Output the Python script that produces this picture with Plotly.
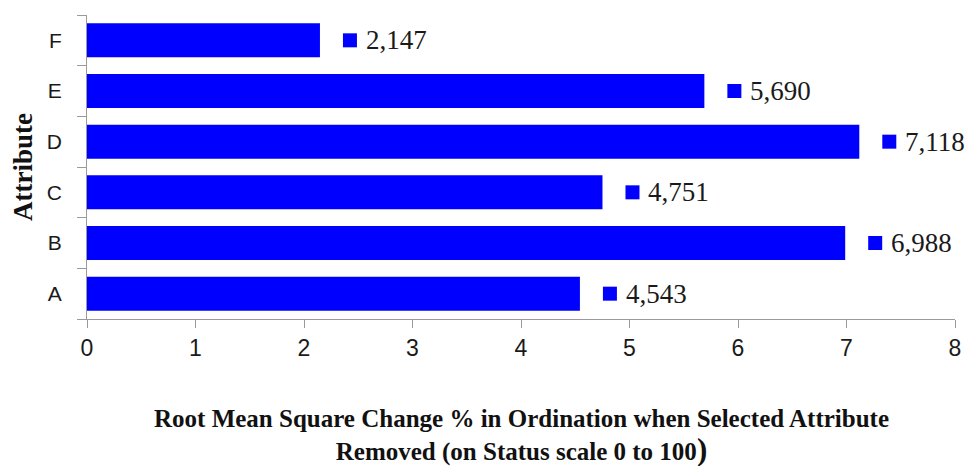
import plotly.graph_objects as go

categories = ["A", "B", "C", "D", "E", "F"]
values = [4.543, 6.988, 4.751, 7.118, 5.690, 2.147]
value_labels = ["4,543", "6,988", "4,751", "7,118", "5,690", "2,147"]
x_ticks = [0, 1, 2, 3, 4, 5, 6, 7, 8]

BLUE = "#0000FF"
AXIS = "#9A9A9A"

fig = go.Figure()
fig.add_trace(go.Bar(
    x=values, y=categories, orientation="h",
    marker=dict(color=BLUE, line=dict(width=0)),
    width=0.67, showlegend=False, hoverinfo="x+y",
))

shapes = []
annotations = []
for cat, v, lab in zip(categories, values, value_labels):
    shapes.append(dict(
        type="rect", xref="x", yref="y",
        xsizemode="pixel", xanchor=v, x0=23, x1=37,
        ysizemode="pixel", yanchor=cat, y0=-7, y1=7,
        fillcolor=BLUE, line=dict(width=0),
    ))
    annotations.append(dict(
        x=v, y=cat, xref="x", yref="y", text=lab, showarrow=False,
        xanchor="left", yanchor="middle", xshift=44,
        font=dict(family="Liberation Serif", size=27, color="#1a1a1a"),
    ))

# axis titles
annotations.append(dict(
    x=0.5, y=0, xref="paper", yref="paper", showarrow=False,
    xanchor="center", yanchor="middle", yshift=-117,
    text="<b>Root Mean Square Change % in Ordination when Selected Attribute<br>"
         "Removed (on Status scale 0 to 100<span style='font-size:31px'>)</span></b>",
    font=dict(family="Liberation Serif", size=25, color="#111"),
))
annotations.append(dict(
    x=0, y=0.5, xref="paper", yref="paper", showarrow=False,
    xanchor="center", yanchor="middle", xshift=-64, textangle=-90,
    text="<b>Attribute</b>",
    font=dict(family="Liberation Serif", size=27, color="#111"),
))

# the page body adds an 8px offset; margins compensate so the plot area lands at 87..955 x 15..319
fig.update_layout(
    width=974, height=466,
    margin=dict(l=79, r=27, t=7, b=155, autoexpand=False),
    paper_bgcolor="white", plot_bgcolor="white",
    shapes=shapes, annotations=annotations,
    bargap=0.33,
    xaxis=dict(
        range=[0, 8], tickmode="array", tickvals=x_ticks,
        ticktext=[str(t) for t in x_ticks],
        showgrid=False, zeroline=False, automargin=False,
        showline=True, linecolor=AXIS, linewidth=1,
        ticks="outside", ticklen=8, tickcolor=AXIS, tickwidth=1,
        tickfont=dict(family="Liberation Sans", size=23, color="#1a1a1a"),
    ),
    yaxis=dict(
        range=[-0.5, 5.5], categoryorder="array", categoryarray=categories,
        showgrid=False, zeroline=False, automargin=False,
        showline=True, linecolor=AXIS, linewidth=1,
        ticks="outside", ticklen=9, tickcolor=AXIS, tickwidth=1,
        tickson="boundaries", ticklabelstandoff=20,
        tickfont=dict(family="Liberation Sans", size=21, color="#1a1a1a"),
    ),
)

fig.write_html("out.html")
